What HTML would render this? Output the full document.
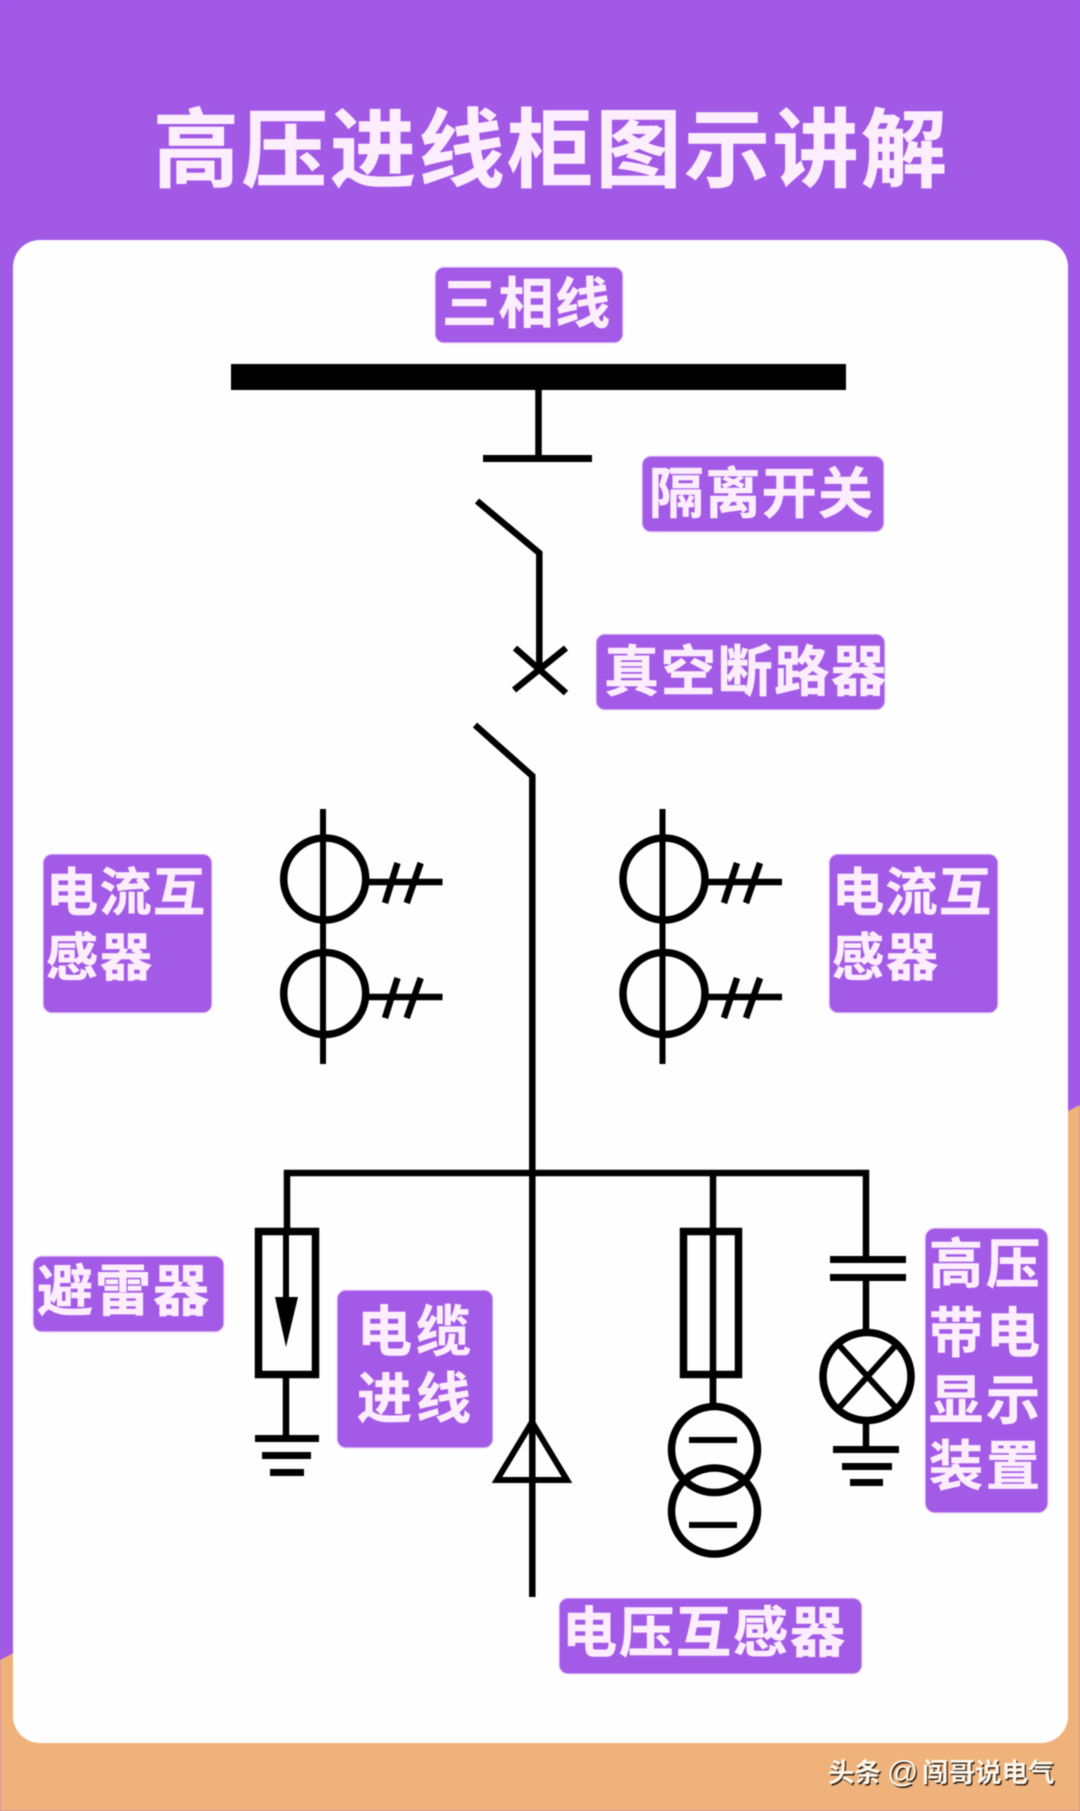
<!DOCTYPE html>
<html lang="zh">
<head>
<meta charset="utf-8">
<title>高压进线柜图示讲解</title>
<style>
html,body{margin:0;padding:0;background:#a259e6}
svg{display:block;filter:blur(.45px)}
.t{font-family:"Liberation Sans","Noto Sans CJK SC",sans-serif;font-weight:700;fill:#fdeefe;stroke:#fdeefe;stroke-width:.6}
.b{fill:#a35ae6;stroke:#ecd8fa;stroke-width:1.2}
.l{stroke:#000;fill:none;stroke-width:6.500}
.w{stroke:#000;fill:none;stroke-width:6}
.f{stroke:#000;fill:none;stroke-width:7.500}
.m{font-family:"Liberation Sans","Noto Sans CJK SC",sans-serif;font-weight:700;font-size:26.500px}
</style>
</head>
<body>
<svg xmlns="http://www.w3.org/2000/svg" width="1080" height="1811" viewBox="0 0 1080 1811">
<rect width="1080" height="1811" fill="#a259e6"/>
<polygon points="0,1660 1080,1105 1080,1811 0,1811" fill="#f0b27b"/>
<rect x="13" y="240" width="1055" height="1503" rx="27" fill="#fefefe"/>

<text class="t" x="153" y="180" font-size="86" textLength="794" lengthAdjust="spacing">高压进线柜图示讲解</text>

<!-- bus -->
<rect x="231" y="364" width="615" height="26" fill="#000"/>
<path class="l" d="M538.5 390V458"/>
<rect x="483" y="455" width="109" height="7" fill="#000"/>
<path class="l" d="M477 501L539.300 553V668"/>
<path class="l" d="M515 648L566 693M566 648L514 690"/>
<path class="l" d="M475 725L532.300 776V1597"/>

<!-- current transformers left -->
<path class="w" d="M323 809V1064"/>
<circle class="f" cx="324.700" cy="879" r="41"/>
<circle class="f" cx="324.700" cy="993.500" r="41"/>
<path class="l" d="M366 882H442.500M366 997H442.500"/>
<path class="l" d="M385 903L397.500 863M406.700 903L420.700 863M385 1018L397.500 978M406.700 1018L420.700 978"/>
<!-- current transformers right -->
<path class="w" d="M662.500 809V1064"/>
<circle class="f" cx="664" cy="879" r="41"/>
<circle class="f" cx="664" cy="993.500" r="41"/>
<path class="l" d="M705 882H782M705 997H782"/>
<path class="l" d="M724 903L737 863M746 903L760 863M724 1018L737 978M746 1018L760 978"/>

<!-- branch bus -->
<path class="l" d="M287 1230V1173H866V1256M713 1173V1403"/>

<!-- arrester -->
<rect class="f" x="258.500" y="1231.500" width="57" height="143"/>
<path class="w" d="M286 1230V1300"/>
<polygon points="275,1297 298,1297 286,1347" fill="#000"/>
<path class="l" d="M286 1378V1436"/>
<rect x="255" y="1435" width="64" height="7" fill="#000"/>
<rect x="262" y="1452" width="49" height="7" fill="#000"/>
<rect x="270" y="1469" width="34" height="7" fill="#000"/>

<!-- cable triangle -->
<path class="w" d="M532 1422L567 1480H497Z"/>
<path class="w" d="M532 1412V1424"/>

<!-- fuse + PT -->
<rect class="f" x="683.500" y="1231.500" width="55" height="143"/>
<path class="l" d="M713 1378V1403"/>
<circle class="f" cx="714.500" cy="1449.500" r="43"/>
<circle class="f" cx="714.500" cy="1511" r="43"/>
<path class="w" d="M689 1440H737M689 1525H737"/>

<!-- capacitor + lamp -->
<rect x="830" y="1256" width="76" height="7" fill="#000"/>
<rect x="830" y="1274" width="76" height="7" fill="#000"/>
<path class="l" d="M866 1281V1330"/>
<circle class="f" cx="867" cy="1376.500" r="44"/>
<path class="w" d="M838 1344L897 1409M897 1344L838 1409"/>
<path class="l" d="M866 1420V1447"/>
<rect x="833" y="1446" width="66" height="7" fill="#000"/>
<rect x="842" y="1463" width="50" height="7" fill="#000"/>
<rect x="850" y="1479" width="33" height="7" fill="#000"/>

<!-- labels -->
<rect class="b" x="435" y="267" width="188" height="76" rx="9"/>
<text class="t" x="442" y="323" font-size="55" textLength="168" lengthAdjust="spacing">三相线</text>

<rect class="b" x="642" y="456" width="242" height="76" rx="9"/>
<text class="t" x="649" y="513" font-size="55" textLength="224" lengthAdjust="spacing">隔离开关</text>

<rect class="b" x="596" y="634" width="289" height="76" rx="9"/>
<text class="t" x="604" y="691" font-size="55" textLength="282" lengthAdjust="spacing">真空断路器</text>

<rect class="b" x="43" y="854" width="169" height="159" rx="9"/>
<text class="t" x="46" y="911" font-size="52" textLength="159" lengthAdjust="spacing">电流互</text>
<text class="t" x="46" y="976" font-size="52" textLength="106" lengthAdjust="spacing">感器</text>

<rect class="b" x="829" y="854" width="169" height="159" rx="9"/>
<text class="t" x="832" y="911" font-size="52" textLength="159" lengthAdjust="spacing">电流互</text>
<text class="t" x="832" y="976" font-size="52" textLength="106" lengthAdjust="spacing">感器</text>

<rect class="b" x="33" y="1256" width="191" height="76" rx="9"/>
<text class="t" x="37" y="1311" font-size="56" textLength="172" lengthAdjust="spacing">避雷器</text>

<rect class="b" x="337" y="1290" width="156" height="158" rx="9"/>
<text class="t" x="357" y="1351" font-size="55" textLength="114" lengthAdjust="spacing">电缆</text>
<text class="t" x="357" y="1418" font-size="55" textLength="114" lengthAdjust="spacing">进线</text>

<rect class="b" x="925" y="1228" width="123" height="285" rx="10"/>
<text class="t" x="929" y="1283" font-size="54" textLength="111" lengthAdjust="spacing">高压</text>
<text class="t" x="929" y="1352" font-size="54" textLength="111" lengthAdjust="spacing">带电</text>
<text class="t" x="929" y="1419" font-size="54" textLength="111" lengthAdjust="spacing">显示</text>
<text class="t" x="929" y="1485" font-size="54" textLength="111" lengthAdjust="spacing">装置</text>

<rect class="b" x="559" y="1598" width="303" height="76" rx="9"/>
<text class="t" x="562" y="1652" font-size="55" textLength="283" lengthAdjust="spacing">电压互感器</text>

<!-- watermark -->
<g class="m" fill="#2a1c10" transform="translate(1.300 1.300)">
<text x="828" y="1782">头条</text><text x="887" y="1782" style="font-size:31px;font-weight:400">@</text><text x="922" y="1782">闯哥说电气</text>
</g>
<g class="m" fill="#fdf6ea">
<text x="828" y="1782">头条</text><text x="887" y="1782" style="font-size:31px;font-weight:400">@</text><text x="922" y="1782">闯哥说电气</text>
</g>
</svg>
</body>
</html>
